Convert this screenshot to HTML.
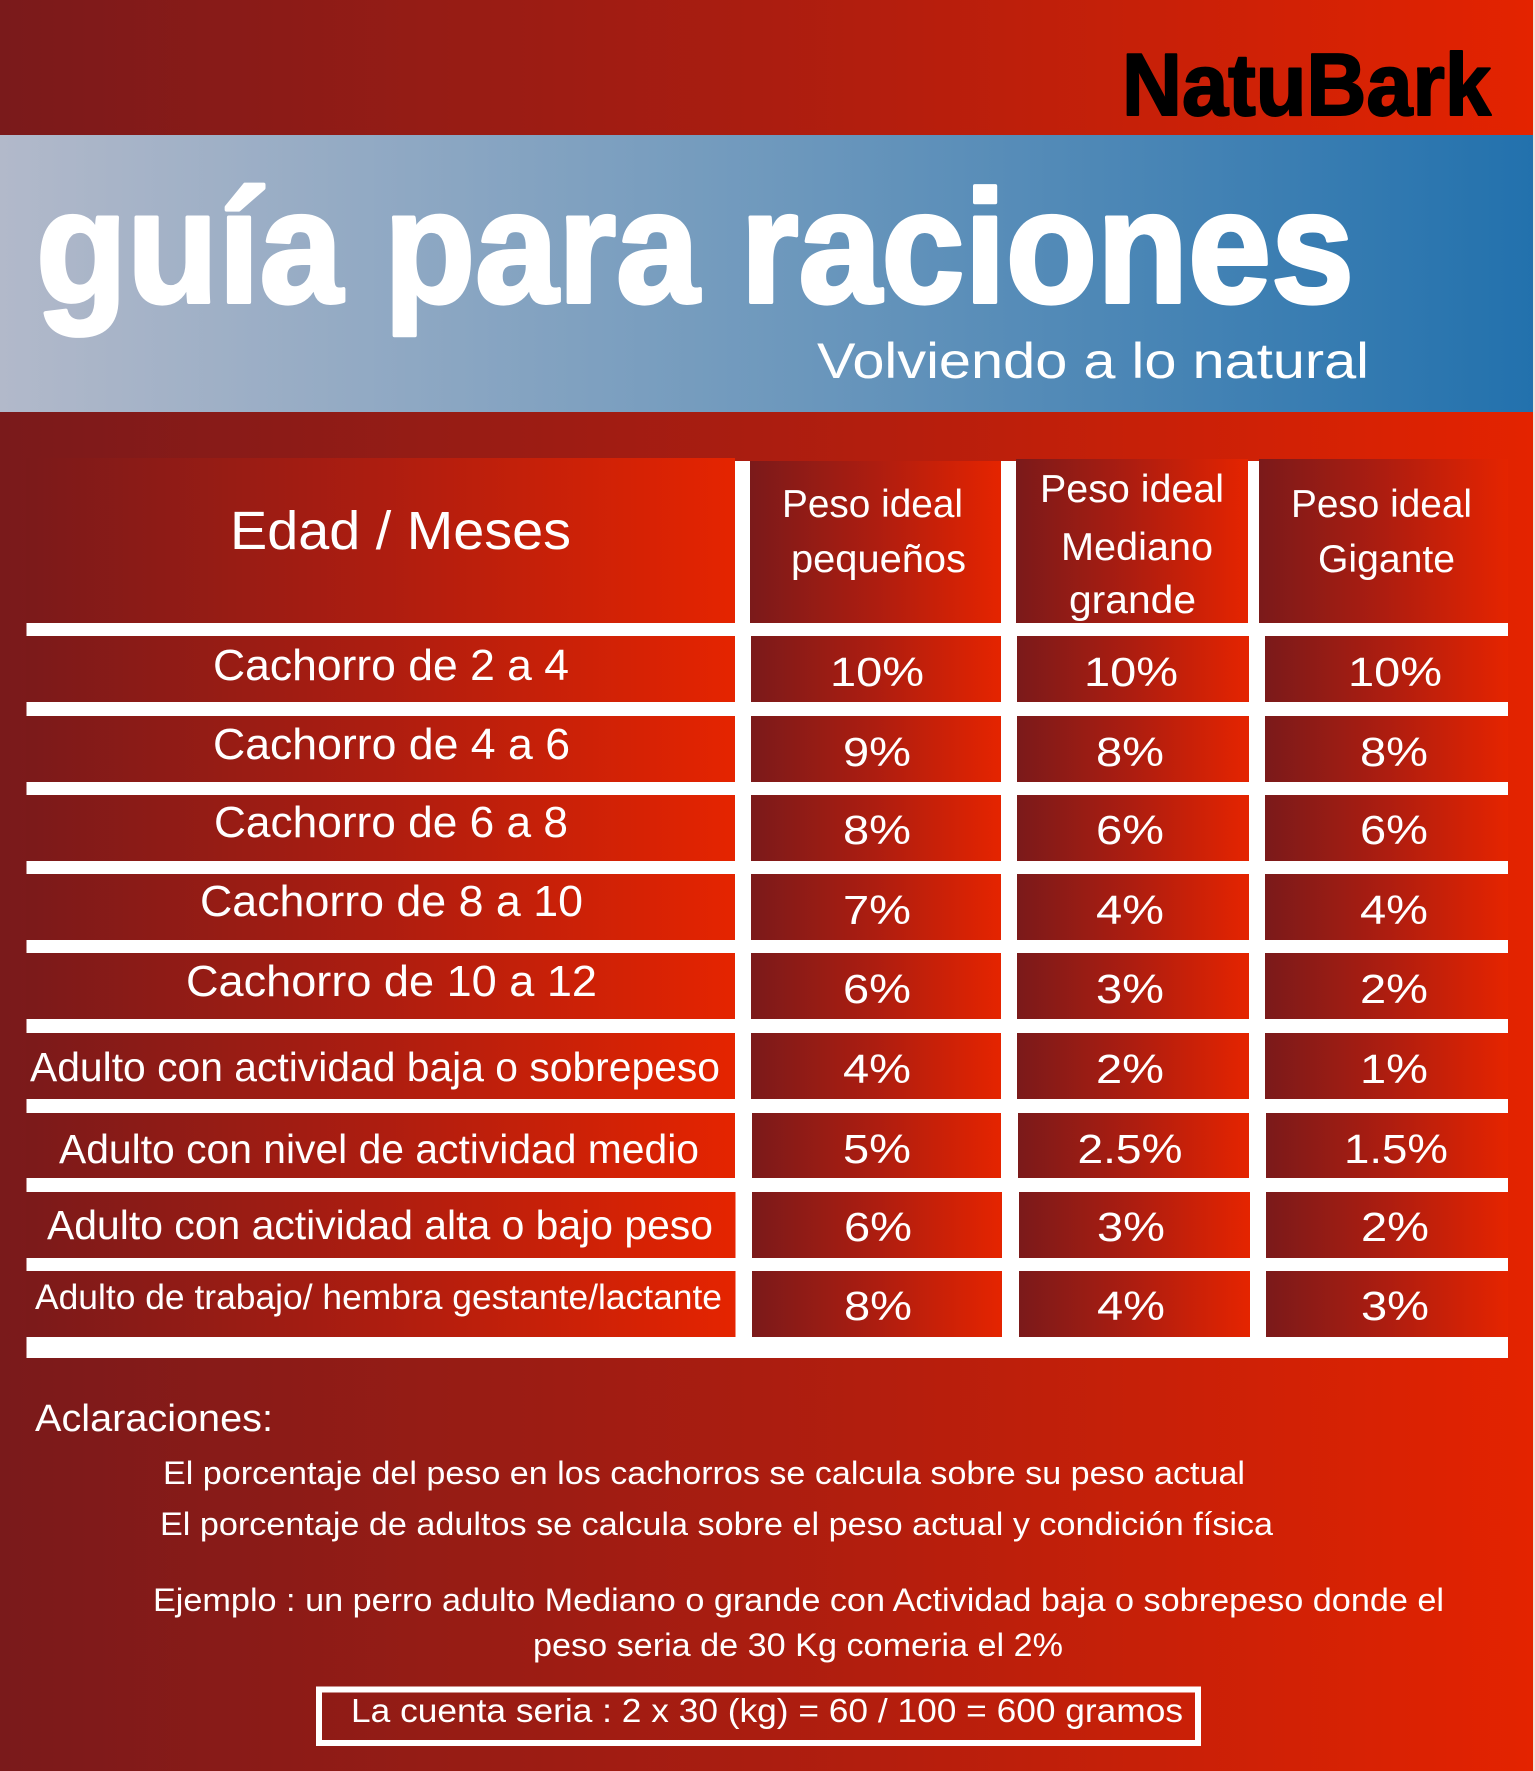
<!DOCTYPE html>
<html>
<head>
<meta charset="utf-8">
<style>
html,body{margin:0;padding:0;background:#7b1a1b;}
svg{display:block;}
text{font-family:"Liberation Sans",Arial,sans-serif;}
</style>
</head>
<body>
<svg width="1535" height="1771" viewBox="0 0 1535 1771" xmlns="http://www.w3.org/2000/svg">
<defs>
<linearGradient id="bg" x1="0" y1="0" x2="1" y2="0">
<stop offset="0" stop-color="#7a1a1b"/>
<stop offset="0.5" stop-color="#ab1d10"/>
<stop offset="1" stop-color="#e42300"/>
</linearGradient>
<linearGradient id="blue" x1="0" y1="0" x2="1" y2="0">
<stop offset="0" stop-color="#b2b9ca"/>
<stop offset="0.5" stop-color="#6f99bd"/>
<stop offset="1" stop-color="#2271ad"/>
</linearGradient>
<linearGradient id="cell" x1="0" y1="0" x2="1" y2="0">
<stop offset="0" stop-color="#7b1a1a"/>
<stop offset="0.5" stop-color="#ad1d10"/>
<stop offset="1" stop-color="#e52400"/>
</linearGradient>
</defs>

<!-- background -->
<rect x="0" y="0" width="1535" height="1771" fill="url(#bg)"/>
<rect x="0" y="135" width="1535" height="277" fill="url(#blue)"/>
<rect x="1533" y="0" width="2" height="1771" fill="#f2e2dc"/>

<!-- logo -->
<text x="1122" y="115" font-size="88" font-weight="bold" fill="#000" stroke="#000" stroke-width="2" stroke-linejoin="round" textLength="369" lengthAdjust="spacingAndGlyphs">NatuBark</text>

<!-- title -->
<text x="36" y="302" font-size="160" font-weight="bold" fill="#fff" stroke="#fff" stroke-width="4" stroke-linejoin="round" textLength="1318" lengthAdjust="spacingAndGlyphs">guía para raciones</text>
<text x="817" y="378" font-size="50" fill="#fff" textLength="552" lengthAdjust="spacingAndGlyphs">Volviendo a lo natural</text>

<!-- table white base -->
<rect x="26.5" y="461" width="1481.5" height="897" fill="#fff"/>

<!-- header cells -->
<rect x="26.5" y="458" width="708.5" height="165" fill="url(#cell)"/>
<rect x="750" y="461" width="251" height="162" fill="url(#cell)"/>
<rect x="1016" y="459" width="232" height="164" fill="url(#cell)"/>
<rect x="1259" y="459" width="249" height="164" fill="url(#cell)"/>

<text x="230" y="549" font-size="54" fill="#fff" textLength="341" lengthAdjust="spacingAndGlyphs">Edad / Meses</text>
<text x="782" y="517" font-size="39" fill="#fff" textLength="181" lengthAdjust="spacingAndGlyphs">Peso ideal</text>
<text x="791" y="572" font-size="39" fill="#fff" textLength="175" lengthAdjust="spacingAndGlyphs">pequeños</text>
<text x="1040" y="502" font-size="39" fill="#fff" textLength="184" lengthAdjust="spacingAndGlyphs">Peso ideal</text>
<text x="1061" y="560" font-size="39" fill="#fff" textLength="152" lengthAdjust="spacingAndGlyphs">Mediano</text>
<text x="1069" y="613" font-size="39" fill="#fff" textLength="127" lengthAdjust="spacingAndGlyphs">grande</text>
<text x="1291" y="517" font-size="39" fill="#fff" textLength="181" lengthAdjust="spacingAndGlyphs">Peso ideal</text>
<text x="1318" y="572" font-size="39" fill="#fff" textLength="137" lengthAdjust="spacingAndGlyphs">Gigante</text>

<!-- data rows: cells -->
<g fill="url(#cell)">
<rect x="26.5" y="636" width="708.5" height="66"/><rect x="751" y="636" width="250" height="66"/><rect x="1017" y="636" width="232" height="66"/><rect x="1265" y="636" width="243" height="66"/>
<rect x="26.5" y="716" width="708.5" height="66"/><rect x="751" y="716" width="250" height="66"/><rect x="1017" y="716" width="232" height="66"/><rect x="1265" y="716" width="243" height="66"/>
<rect x="26.5" y="795" width="708.5" height="66"/><rect x="751" y="795" width="250" height="66"/><rect x="1017" y="795" width="232" height="66"/><rect x="1265" y="795" width="243" height="66"/>
<rect x="26.5" y="874" width="708.5" height="66"/><rect x="751" y="874" width="250" height="66"/><rect x="1017" y="874" width="232" height="66"/><rect x="1265" y="874" width="243" height="66"/>
<rect x="26.5" y="953" width="708.5" height="66"/><rect x="751" y="953" width="250" height="66"/><rect x="1017" y="953" width="232" height="66"/><rect x="1265" y="953" width="243" height="66"/>
<rect x="26.5" y="1033" width="708.5" height="66"/><rect x="751" y="1033" width="250" height="66"/><rect x="1017" y="1033" width="232" height="66"/><rect x="1265" y="1033" width="243" height="66"/>
<rect x="26.5" y="1113" width="708.5" height="65"/><rect x="752" y="1113" width="249" height="65"/><rect x="1018" y="1113" width="231" height="65"/><rect x="1266" y="1113" width="242" height="65"/>
<rect x="26.5" y="1192" width="709" height="66"/><rect x="752" y="1192" width="250" height="66"/><rect x="1019" y="1192" width="231" height="66"/><rect x="1266" y="1192" width="242" height="66"/>
<rect x="26.5" y="1271" width="709" height="66"/><rect x="752" y="1271" width="250" height="66"/><rect x="1019" y="1271" width="231" height="66"/><rect x="1266" y="1271" width="242" height="66"/>
</g>

<!-- row labels -->
<g fill="#fff">
<text x="213" y="680" font-size="44" textLength="356" lengthAdjust="spacingAndGlyphs">Cachorro de 2 a 4</text>
<text x="213" y="759" font-size="44" textLength="357" lengthAdjust="spacingAndGlyphs">Cachorro de 4 a 6</text>
<text x="214" y="837" font-size="44" textLength="354" lengthAdjust="spacingAndGlyphs">Cachorro de 6 a 8</text>
<text x="200" y="916" font-size="44" textLength="383" lengthAdjust="spacingAndGlyphs">Cachorro de 8 a 10</text>
<text x="186" y="996" font-size="44" textLength="411" lengthAdjust="spacingAndGlyphs">Cachorro de 10 a 12</text>
<text x="30" y="1081" font-size="41" textLength="690" lengthAdjust="spacingAndGlyphs">Adulto con actividad baja o sobrepeso</text>
<text x="59" y="1163" font-size="41" textLength="640" lengthAdjust="spacingAndGlyphs">Adulto con nivel de actividad medio</text>
<text x="47" y="1239" font-size="41" textLength="666" lengthAdjust="spacingAndGlyphs">Adulto con actividad alta o bajo peso</text>
<text x="35" y="1309" font-size="35" textLength="687" lengthAdjust="spacingAndGlyphs">Adulto de trabajo/ hembra gestante/lactante</text>
</g>

<!-- percentages -->
<g fill="#fff" font-size="41" text-anchor="middle">
<text x="877" y="686" textLength="94" lengthAdjust="spacingAndGlyphs">10%</text>
<text x="1131" y="686" textLength="94" lengthAdjust="spacingAndGlyphs">10%</text>
<text x="1395" y="686" textLength="94" lengthAdjust="spacingAndGlyphs">10%</text>

<text x="877" y="766" textLength="68" lengthAdjust="spacingAndGlyphs">9%</text>
<text x="1130" y="766" textLength="68" lengthAdjust="spacingAndGlyphs">8%</text>
<text x="1394" y="766" textLength="68" lengthAdjust="spacingAndGlyphs">8%</text>

<text x="877" y="844" textLength="68" lengthAdjust="spacingAndGlyphs">8%</text>
<text x="1130" y="844" textLength="68" lengthAdjust="spacingAndGlyphs">6%</text>
<text x="1394" y="844" textLength="68" lengthAdjust="spacingAndGlyphs">6%</text>

<text x="877" y="924" textLength="68" lengthAdjust="spacingAndGlyphs">7%</text>
<text x="1130" y="924" textLength="68" lengthAdjust="spacingAndGlyphs">4%</text>
<text x="1394" y="924" textLength="68" lengthAdjust="spacingAndGlyphs">4%</text>

<text x="877" y="1003" textLength="68" lengthAdjust="spacingAndGlyphs">6%</text>
<text x="1130" y="1003" textLength="68" lengthAdjust="spacingAndGlyphs">3%</text>
<text x="1394" y="1003" textLength="68" lengthAdjust="spacingAndGlyphs">2%</text>

<text x="877" y="1083" textLength="68" lengthAdjust="spacingAndGlyphs">4%</text>
<text x="1130" y="1083" textLength="68" lengthAdjust="spacingAndGlyphs">2%</text>
<text x="1394" y="1083" textLength="68" lengthAdjust="spacingAndGlyphs">1%</text>

<text x="877" y="1163" textLength="68" lengthAdjust="spacingAndGlyphs">5%</text>
<text x="1130" y="1163" textLength="105" lengthAdjust="spacingAndGlyphs">2.5%</text>
<text x="1396" y="1163" textLength="104" lengthAdjust="spacingAndGlyphs">1.5%</text>

<text x="878" y="1241" textLength="68" lengthAdjust="spacingAndGlyphs">6%</text>
<text x="1131" y="1241" textLength="68" lengthAdjust="spacingAndGlyphs">3%</text>
<text x="1395" y="1241" textLength="68" lengthAdjust="spacingAndGlyphs">2%</text>

<text x="878" y="1320" textLength="68" lengthAdjust="spacingAndGlyphs">8%</text>
<text x="1131" y="1320" textLength="68" lengthAdjust="spacingAndGlyphs">4%</text>
<text x="1395" y="1320" textLength="68" lengthAdjust="spacingAndGlyphs">3%</text>
</g>

<!-- notes -->
<g fill="#fff">
<text x="35" y="1431" font-size="38" textLength="238" lengthAdjust="spacingAndGlyphs">Aclaraciones:</text>
<text x="163" y="1484" font-size="32" textLength="1082" lengthAdjust="spacingAndGlyphs">El porcentaje del peso en los cachorros se calcula sobre su peso actual</text>
<text x="160" y="1535" font-size="32" textLength="1113" lengthAdjust="spacingAndGlyphs">El porcentaje de adultos se calcula sobre el peso actual y condición física</text>
<text x="153" y="1611" font-size="32" textLength="1291" lengthAdjust="spacingAndGlyphs">Ejemplo : un perro adulto Mediano o grande con Actividad baja o sobrepeso donde el</text>
<text x="533" y="1656" font-size="32" textLength="530" lengthAdjust="spacingAndGlyphs">peso seria de 30 Kg comeria el 2%</text>
<text x="351" y="1722" font-size="33" textLength="832" lengthAdjust="spacingAndGlyphs">La cuenta seria : 2 x 30 (kg) = 60 / 100 = 600 gramos</text>
</g>
<rect x="319" y="1689.5" width="879" height="53.5" fill="none" stroke="#fff" stroke-width="6"/>
</svg>
</body>
</html>
